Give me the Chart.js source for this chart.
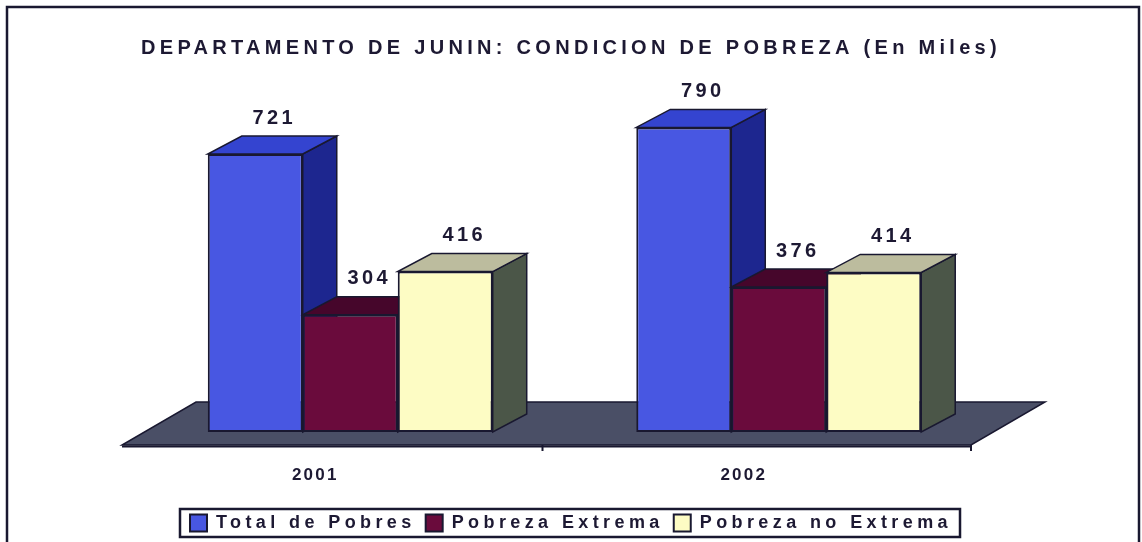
<!DOCTYPE html>
<html>
<head>
<meta charset="utf-8">
<title>Departamento de Junin: Condicion de Pobreza</title>
<script src="https://cdn.jsdelivr.net/npm/chart.js@4/dist/chart.umd.min.js"></script>
<style>
  html, body { margin: 0; padding: 0; background: #fff; }
  #wrap { width: 1142px; height: 542px; }
</style>
</head>
<body>
<div id="wrap"><canvas id="chart"></canvas></div>
<script>

/* DATA */

const categories = ["2001", "2002"];

const seriesNames = [
  "Total de Pobres",
  "Pobreza Extrema",
  "Pobreza no Extrema"
];

const totalPobres = [721, 790];
const pobrezaExtrema = [304, 376];
const pobrezaNoExtrema = [416, 414];

const yMax = 900;

const titleText = "DEPARTAMENTO DE JUNIN: CONDICION DE POBREZA (En Miles)";

/* STYLE */

const ink = "#1d1933";
const edge = "#191830";
const fontFamily = "'Liberation Sans', Arial, sans-serif";

const frontColors = ["#4857e2", "#6a0b3c", "#fdfcc4"];
const topColors = ["#3444d0", "#46062b", "#bcbc9e"];
const sideColors = ["#1d268f", "#3a0522", "#4b5648"];
const floorColor = "#4a4f66";

const depthX = 34;
const depthY = 18;

/* HELPERS */

function face(ctx, pts, fill){
  ctx.beginPath();
  ctx.moveTo(pts[0][0], pts[0][1]);
  for(let i = 1; i < pts.length; i++){
    ctx.lineTo(pts[i][0], pts[i][1]);
  }
  ctx.closePath();
  ctx.fillStyle = fill;
  ctx.fill();
  ctx.lineJoin = "miter";
  ctx.strokeStyle = edge;
  ctx.lineWidth = 1.5;
  ctx.stroke();
}

// canvas letterSpacing around a chart part's own method
function withSpacing(target, method, spacing){
  if(!target || !target[method] || target[method].spaced) return;
  const original = target[method];
  const wrapped = function(...args){
    const ctx = this.ctx;
    const before = ctx.letterSpacing;
    ctx.letterSpacing = spacing;
    const result = original.apply(this, args);
    ctx.letterSpacing = before;
    return result;
  };
  wrapped.spaced = true;
  target[method] = wrapped;
}

/* 3D PLUGIN */

const bars3d = {

  id: "bars3d",

  beforeLayout(chart){
    withSpacing(chart.legend, "fit", "4.4px");
    withSpacing(chart.legend, "draw", "4.4px");
    withSpacing(chart.titleBlock, "draw", "4.3px");
    withSpacing(chart.scales.x, "drawLabels", "2.2px");
  },

  beforeDraw(chart){
    const ctx = chart.ctx;
    ctx.save();
    ctx.fillStyle = "#fff";
    ctx.fillRect(0, 0, chart.width, chart.height);
    ctx.strokeStyle = edge;
    ctx.lineWidth = 2.5;
    ctx.strokeRect(7, 7, chart.width - 10, chart.height + 10);
    ctx.restore();
  },

  beforeDatasetsDraw(chart){
    const { ctx, chartArea, scales } = chart;
    const base = scales.y.getPixelForValue(0);

    ctx.save();

    // floor
    const fl = chartArea.left - 14;
    const fr = chartArea.right - 22;
    const fy = base + 13;
    face(ctx, [[fl, fy], [fr, fy], [fr + 74, fy - 43], [fl + 74, fy - 43]], floorColor);

    ctx.beginPath();
    ctx.moveTo(fl, fy + 1.5);
    ctx.lineTo(fr, fy + 1.5);
    ctx.lineWidth = 2;
    ctx.stroke();

    // category boundary ticks on the floor edge
    const step = (chartArea.right - chartArea.left) / categories.length;
    for(let i = 1; i <= categories.length; i++){
      const tx = chartArea.left + i * step - 22;
      ctx.beginPath();
      ctx.moveTo(tx, fy);
      ctx.lineTo(tx, fy + 6);
      ctx.lineWidth = 2;
      ctx.stroke();
    }

    // sides and tops, left to right, fronts come on top later
    categories.forEach((c, j) => {
      chart.data.datasets.forEach((ds, i) => {
        const bar = chart.getDatasetMeta(i).data[j];
        const { x, y, base: b, width } = bar.getProps(["x", "y", "base", "width"], true);
        const l = x - width / 2;
        const r = x + width / 2;
        face(ctx, [[r, y], [r + depthX, y - depthY], [r + depthX, b - depthY], [r, b]], sideColors[i]);
        face(ctx, [[l, y], [r, y], [r + depthX, y - depthY], [l + depthX, y - depthY]], topColors[i]);
      });
    });

    ctx.restore();
  },

  afterDatasetsDraw(chart){
    const ctx = chart.ctx;
    ctx.save();
    ctx.letterSpacing = "3.4px";
    ctx.font = "bold 20px " + fontFamily;
    ctx.fillStyle = ink;
    ctx.textAlign = "center";
    ctx.textBaseline = "bottom";
    chart.data.datasets.forEach((ds, i) => {
      chart.getDatasetMeta(i).data.forEach((bar, j) => {
        const { x, y } = bar.getProps(["x", "y"], true);
        ctx.fillText(String(ds.data[j]), x + depthX / 2 + 2, y - depthY - 8);
      });
    });
    ctx.restore();
  },

  afterDraw(chart){
    const boxes = chart.legend && chart.legend.legendHitBoxes;
    if(!boxes || !boxes.length) return;
    const left = Math.min(...boxes.map(h => h.left)) - 10;
    const right = Math.max(...boxes.map(h => h.left + h.width)) + 8;
    const mid = boxes[0].top + boxes[0].height / 2;
    const ctx = chart.ctx;
    ctx.save();
    ctx.strokeStyle = edge;
    ctx.lineWidth = 2.5;
    ctx.strokeRect(left, mid - 14, right - left, 28);
    ctx.restore();
  }

};

/* CHART */

const seriesValues = [totalPobres, pobrezaExtrema, pobrezaNoExtrema];

const datasets = seriesNames.map((name, i) => ({
  label: name,
  data: seriesValues[i],
  backgroundColor: frontColors[i],
  borderColor: edge,
  borderWidth: 2,
  borderSkipped: false,
  barPercentage: 1,
  categoryPercentage: 0.665
}));

new Chart(document.getElementById("chart"), {

  type: "bar",

  data: {
    labels: categories,
    datasets: datasets
  },

  options: {
    responsive: true,
    maintainAspectRatio: false,
    animation: false,
    layout: { padding: 0 },

    scales: {
      x: {
        grid: { display: false },
        border: { display: false },
        ticks: {
          color: ink,
          padding: 25,
          labelOffset: -35,
          font: { family: fontFamily, size: 17, weight: "bold" }
        },
        afterFit(scale){ scale.height = 72; }
      },
      y: {
        min: 0,
        max: yMax,
        grid: { display: false },
        border: { display: false },
        ticks: { display: false },
        afterFit(scale){ scale.width = 136; }
      },
      yRight: {
        position: "right",
        min: 0,
        max: yMax,
        grid: { display: false },
        border: { display: false },
        ticks: { display: false },
        afterFit(scale){ scale.width = 149; }
      }
    },

    plugins: {
      title: {
        display: true,
        text: titleText,
        color: ink,
        padding: { top: 36, bottom: 25 },
        font: { family: fontFamily, size: 20, weight: "bold", lineHeight: 1.2 }
      },
      legend: {
        position: "bottom",
        labels: {
          color: ink,
          boxWidth: 17,
          boxHeight: 17,
          padding: 10,
          font: { family: fontFamily, size: 18, weight: "bold" }
        }
      },
      tooltip: { enabled: false }
    }
  },

  plugins: [bars3d]

});

</script>
</body>
</html>
